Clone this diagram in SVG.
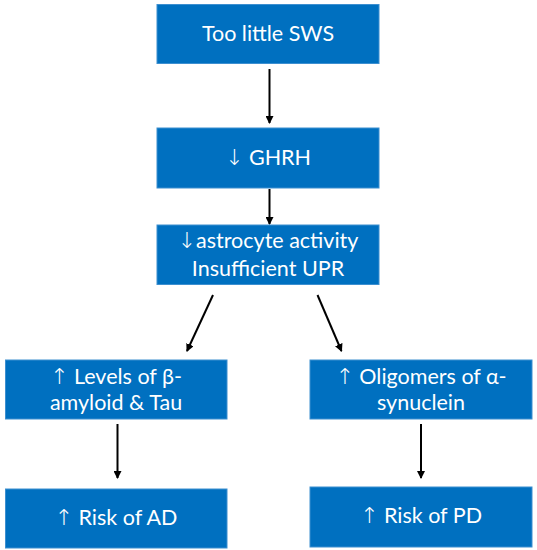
<svg xmlns="http://www.w3.org/2000/svg" width="537" height="550" viewBox="0 0 537 550">
<style>
.box{fill:#0070C0;stroke:#3D8FD0;stroke-width:1}
.t{fill:#fff;font-family:Lato,"Open Sans","Liberation Sans",sans-serif;font-size:21.5px;text-anchor:middle}
.a{font-family:"DejaVu Sans",sans-serif;font-size:22px;font-weight:200}
.c{stroke:#000;stroke-width:2;fill:none;marker-end:url(#ah)}
</style>
<defs>
<marker id="ah" markerWidth="8" markerHeight="8" refX="7" refY="4" orient="auto" markerUnits="userSpaceOnUse">
<path d="M0,0 L8,4 L0,8 Z" fill="#000"/>
</marker>
</defs>
<rect width="537" height="550" fill="#fff"/>
<g id="connectors">
<line class="c" x1="269.5" y1="69" x2="269.5" y2="123"/>
<line class="c" x1="269.5" y1="189" x2="269.5" y2="224"/>
<line class="c" x1="213" y1="295" x2="187" y2="351"/>
<line class="c" x1="317.5" y1="295" x2="341.5" y2="351"/>
<line class="c" x1="117.5" y1="424" x2="117.5" y2="478"/>
<line class="c" x1="421" y1="424" x2="421" y2="478"/>
</g>
<g id="n1"><rect class="box" x="157" y="4.5" width="222" height="59"/><text class="t" x="268" y="41">Too little SWS</text></g>
<g id="n2"><rect class="box" x="157" y="128" width="222" height="60"/><text class="t" x="268" y="165"><tspan class="a">↓</tspan> GHRH</text></g>
<g id="n3"><rect class="box" x="157" y="225" width="222" height="59.5"/><text class="t" x="268" y="248"><tspan class="a">↓</tspan>astrocyte activity</text><text class="t" x="268" y="276">Insufficient UPR</text></g>
<g id="n4"><rect class="box" x="5.5" y="360" width="221.5" height="59"/><text class="t" x="116" y="383.5"><tspan class="a">↑</tspan> Levels of β-</text><text class="t" x="116" y="410">amyloid &amp; Tau</text></g>
<g id="n5"><rect class="box" x="310" y="360" width="222" height="59"/><text class="t" x="421" y="383.5"><tspan class="a">↑</tspan> Oligomers of α-</text><text class="t" x="421" y="410">synuclein</text></g>
<g id="n6"><rect class="box" x="5.5" y="489" width="221.5" height="59"/><text class="t" x="116" y="525"><tspan class="a">↑</tspan> Risk of AD</text></g>
<g id="n7"><rect class="box" x="310" y="487" width="222" height="60"/><text class="t" x="421" y="523"><tspan class="a">↑</tspan> Risk of PD</text></g>
</svg>
